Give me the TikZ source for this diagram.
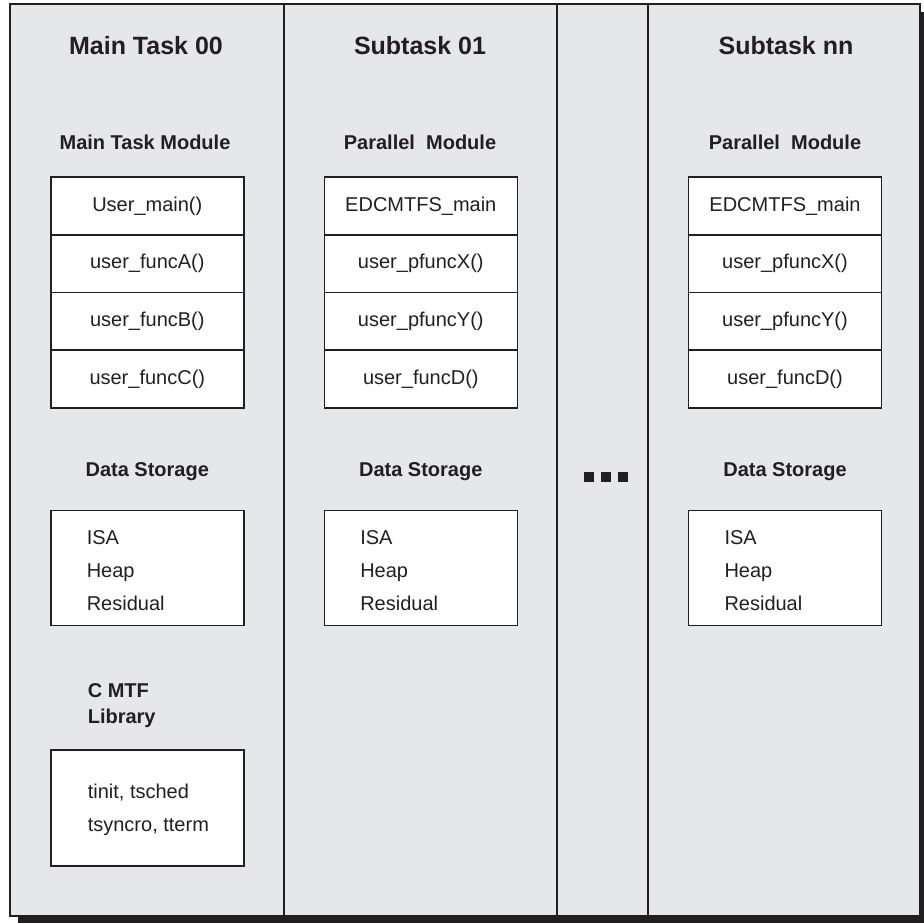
\documentclass[tikz,border=0pt]{standalone}
\usepackage{fontspec}
\setmainfont{Liberation Sans}
\usepackage{tikz}
\definecolor{panelgrey}{RGB}{230,231,233}
\definecolor{inkblack}{RGB}{35,31,32}

\begin{document}
\begin{tikzpicture}[x=1pt, y=-1pt, line width=1.6pt,
    tasktitle/.style={font=\fontsize{25}{30}\selectfont\bfseries, text=inkblack, inner sep=0pt},
    modhead/.style={font=\fontsize{20}{26}\selectfont\bfseries, text=inkblack, inner sep=0pt},
    rowbox/.style={draw=inkblack, fill=white, minimum width=193pt, minimum height=57.75pt,
      inner sep=0pt, font=\fontsize{20}{24}\selectfont, text=inkblack},
    storebox/.style={draw=inkblack, fill=white, minimum width=193pt, inner sep=0pt},
    item/.style={anchor=base west, inner sep=0pt, font=\fontsize{20}{24}\selectfont, text=inkblack}]
    \useasboundingbox (0,0) rectangle (924,923);
    % Shadow and outer frame
    \fill[inkblack] (18,12) rectangle (930,930);
    \filldraw[fill=panelgrey, draw=inkblack] (10,4) rectangle (920,916);
    % Column dividers
    \foreach \x in {284,557,648}
      \draw[inkblack] (\x,4) -- (\x,916);
    % Task titles
    \node[tasktitle] (tMain) at (146,46)  {Main Task 00};
    \node[tasktitle] (tSubA) at (420,46)  {Subtask 01};
    \node[tasktitle] (tSubN) at (786,46)  {Subtask nn};
    % Module headers
    \node[modhead] (hMain) at (145,142) {Main Task Module};
    \node[modhead] (hSubA) at (420,142) {Parallel~ Module};
    \node[modhead] (hSubN) at (785,142) {Parallel~ Module};
    % Module stacks
    \foreach \y/\lab [count=\i] in {205.9/User\_main(), 263.6/user\_funcA(),
        321.4/user\_funcB(), 379.1/user\_funcC()}
      \node[rowbox] (rowMain\i) at (147.3,\y) {\lab};
    \foreach \y/\lab [count=\i] in {205.9/EDCMTFS\_main, 263.6/user\_pfuncX(),
        321.4/user\_pfuncY(), 379.1/user\_funcD()}{
      \node[rowbox] (rowSubA\i) at (420.8,\y) {\lab};
      \node[rowbox] (rowSubN\i) at (785,\y) {\lab};
    }
    % Data storage
    \foreach \cx/\nm in {147.3/Main, 420.8/SubA, 785/SubN}{
      \node[modhead] (ds\nm) at (\cx,472) {Data Storage};
      \node[storebox, minimum height=115pt] (dsBox\nm) at (\cx,568) {};
      \node[item] (isa\nm)  at ([xshift=36pt]dsBox\nm.west |- 0,544) {ISA};
      \node[item] (heap\nm) at ([xshift=36pt]dsBox\nm.west |- 0,577) {Heap};
      \node[item] (res\nm)  at ([xshift=36pt]dsBox\nm.west |- 0,610) {Residual};
    }
    % Library
    \node[modhead, anchor=west, align=left] (libHead) at (87,706) {C MTF\\Library};
    \node[storebox, minimum height=116pt] (libBox) at (147.3,808) {};
    \node[item] (libA) at (87,798) {tinit, tsched};
    \node[item] (libB) at (87,831) {tsyncro, tterm};
    % Ellipsis between subtasks
    \foreach \x in {584,601,618}
      \fill[inkblack] (\x,472) rectangle ++(10,10);
\end{tikzpicture}
\end{document}
